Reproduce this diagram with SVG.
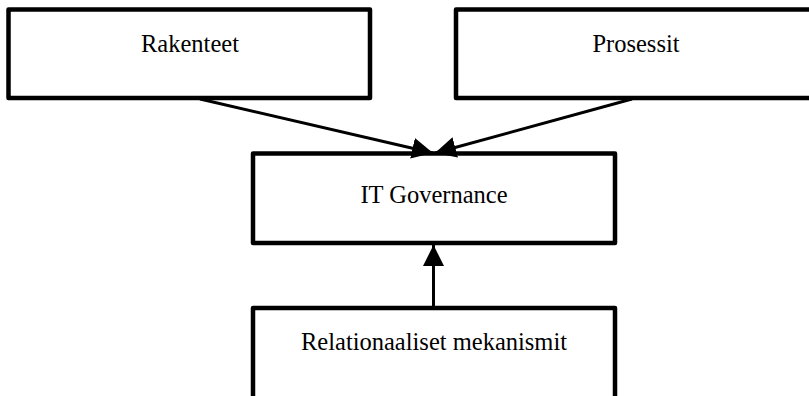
<svg xmlns="http://www.w3.org/2000/svg" width="809" height="396" viewBox="0 0 809 396">
  <style>
    .box { fill: #ffffff; stroke: #000000; stroke-width: 4.5; stroke-linejoin: round; }
    .label { font-family: "Liberation Serif", "Times New Roman", serif; font-size: 24.5px; fill: #000000; text-anchor: middle; }
    .edge { stroke: #000000; stroke-width: 3; fill: none; }
  </style>
  <defs>
    <marker id="arrow" viewBox="0 0 10 10" refX="10" refY="5" markerWidth="7" markerHeight="7" markerUnits="strokeWidth" orient="auto">
      <path d="M0,0 L10,5 L0,10 Z" fill="#000000"/>
    </marker>
  </defs>

  <g id="rakenteet">
    <rect class="box" x="8.5" y="9.5" width="361.5" height="88.5"/>
    <text class="label" x="190" y="52">Rakenteet</text>
  </g>

  <g id="prosessit">
    <rect class="box" x="456" y="9.5" width="360" height="88.5"/>
    <text class="label" x="636" y="52">Prosessit</text>
  </g>

  <g id="it-governance">
    <rect class="box" x="253" y="153.5" width="362" height="89.5"/>
    <text class="label" x="434" y="203">IT Governance</text>
  </g>

  <g id="relationaaliset">
    <rect class="box" x="253" y="308" width="362" height="100"/>
    <text class="label" x="434" y="350">Relationaaliset mekanismit</text>
  </g>

  <g id="connectors">
    <line class="edge" x1="200" y1="99" x2="433" y2="153" marker-end="url(#arrow)"/>
    <line class="edge" x1="632" y1="99" x2="435" y2="153" marker-end="url(#arrow)"/>
    <line class="edge" x1="433.5" y1="306" x2="433.5" y2="245" marker-end="url(#arrow)"/>
  </g>
</svg>
